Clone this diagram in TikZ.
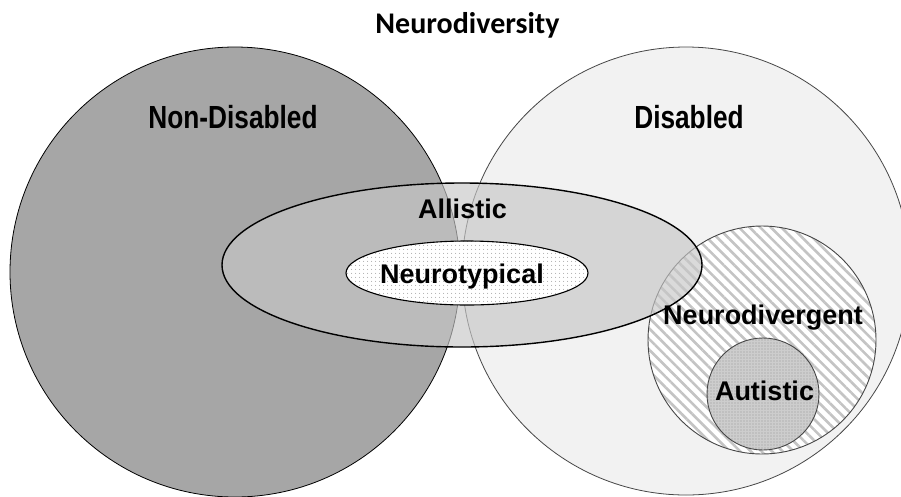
\documentclass[tikz,border=0pt]{standalone}
\usepackage{fontspec}
\usetikzlibrary{patterns.meta}
\newfontfamily\calibfont{Carlito}
\newfontfamily\arialfont{Liberation Sans}
\newfontfamily\narrowfont[FakeStretch=0.82]{Liberation Sans}
\definecolor{leftgray}{RGB}{166,166,166}
\definecolor{rightgray}{RGB}{242,242,242}
\definecolor{allgray}{RGB}{199,199,199}
\definecolor{hatchgray}{RGB}{196,196,196}
\definecolor{autgray}{RGB}{205,205,205}
\definecolor{edgegray}{RGB}{70,70,70}
\tikzset{
  bigcircle/.style={line width=0.8pt},
  titletext/.style={anchor=base, font=\calibfont\bfseries\fontsize{30}{36}\selectfont},
  bigtext/.style={anchor=base, font=\narrowfont\bfseries\fontsize{32}{38}\selectfont},
  lbltext/.style={anchor=base, font=\arialfont\bfseries\fontsize{27}{32}\selectfont},
}
\begin{document}
\begin{tikzpicture}[x=1pt,y=-1pt]
\useasboundingbox (0,0) rectangle (901,496);
\begin{scope}
\clip (0,0) rectangle (901,496);
% Non-Disabled circle
\draw[bigcircle, fill=leftgray, draw=black] (235,272) circle (225);
% Disabled circle
\draw[bigcircle, fill=rightgray, draw=edgegray] (686,271) circle (224);
\end{scope}
% Neurodivergent circle (hatched)
\path[fill=white] (762,340) circle (114);
\path[pattern={Lines[angle=-45,distance=7.5pt,line width=2.6pt]}, pattern color=hatchgray] (762,340) circle (114);
\draw[line width=0.9pt, draw=edgegray] (762,340) circle (114);
% Autistic circle
\path[fill=autgray] (763,394) circle (56);
\path[pattern={Dots[distance=3pt,radius=0.6pt]}, pattern color=gray!80] (763,394) circle (56);
\draw[line width=0.9pt, draw=edgegray] (763,394) circle (56);
% Allistic ellipse
\path[fill=allgray, fill opacity=0.66] (462,265) ellipse [x radius=240, y radius=82];
\draw[line width=1.4pt, draw=black] (462,265) ellipse [x radius=240, y radius=82];
% Neurotypical ellipse
\path[fill=white] (467,273) ellipse [x radius=121, y radius=32];
\path[pattern={Dots[distance=4pt,radius=0.6pt]}, pattern color=gray!70] (467,273) ellipse [x radius=121, y radius=32];
\draw[line width=1.1pt, draw=black] (467,273) ellipse [x radius=121, y radius=32];
% texts
\node[titletext] (title) at (467.5,33) {Neurodiversity};
\node[bigtext] (nondis) at (233,128) {Non-Disabled};
\node[bigtext] (dis) at (689,128) {Disabled};
\node[lbltext] (allistic) at (462.5,218) {Allistic};
\node[lbltext] (neurotyp) at (462,283) {Neurotypical};
\node[lbltext] (neurodiv) at (763,324) {Neurodivergent};
\node[lbltext] (autistic) at (764.5,400) {Autistic};
\end{tikzpicture}
\end{document}
